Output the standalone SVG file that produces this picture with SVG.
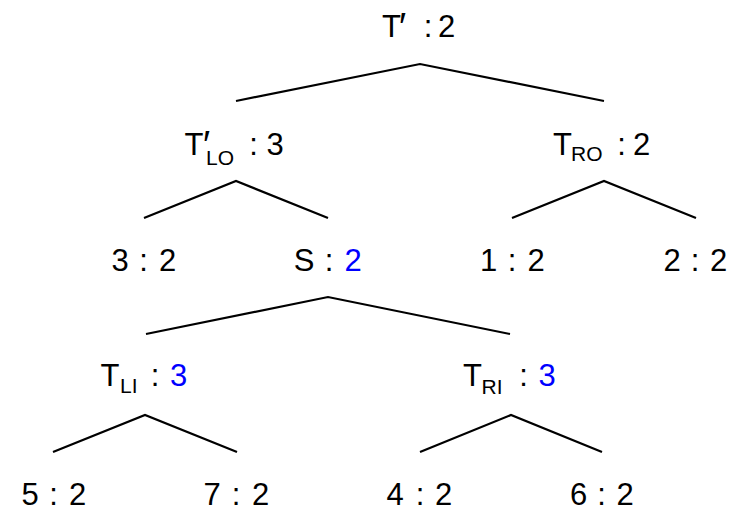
<svg xmlns="http://www.w3.org/2000/svg" width="735" height="510" viewBox="0 0 735 510">
<style>
text{font-family:"Liberation Sans",Arial,sans-serif;font-size:31px;fill:#000;text-anchor:middle}
.sub{font-size:21px;text-anchor:start}
.pr{font-size:38px;text-anchor:start}
.b{fill:#0000ff}
.edge{fill:none;stroke:#000;stroke-width:2.2;stroke-linejoin:miter}
</style>
<rect width="735" height="510" fill="#fff"/>
<g id="connectors">
<polyline class="edge" points="236,101 420,64 604,101"/>
<polyline class="edge" points="144,218 236,181 328,218"/>
<polyline class="edge" points="512,218 604,181 696,218"/>
<polyline class="edge" points="146,334 328,297 510,334"/>
<polyline class="edge" points="53,452 145,415 237,452"/>
<polyline class="edge" points="420,452 511,415 602,452"/>
</g>
<g id="n-root"><text y="37"><tspan x="391.5">T</tspan><tspan class="pr" x="399" y="40">′</tspan><tspan x="428" y="37">:</tspan><tspan x="446.5">2</tspan></text></g>
<g id="n-tlo"><text y="155"><tspan x="194">T</tspan><tspan class="pr" x="203" y="158">′</tspan><tspan class="sub" x="206" y="165">LO</tspan><tspan x="253.5" y="155">:</tspan><tspan x="275">3</tspan></text></g>
<g id="n-tro"><text y="155"><tspan x="562.5">T</tspan><tspan class="sub" x="571" y="161">RO</tspan><tspan x="621.5" y="155">:</tspan><tspan x="641.5">2</tspan></text></g>
<g id="n-32"><text y="271"><tspan x="120">3</tspan><tspan x="143.5">:</tspan><tspan x="167.5">2</tspan></text></g>
<g id="n-s"><text y="271"><tspan x="304">S</tspan><tspan x="329">:</tspan><tspan class="b" x="353">2</tspan></text></g>
<g id="n-12"><text y="271"><tspan x="488.5">1</tspan><tspan x="512">:</tspan><tspan x="536">2</tspan></text></g>
<g id="n-22"><text y="271"><tspan x="672">2</tspan><tspan x="695">:</tspan><tspan x="718.5">2</tspan></text></g>
<g id="n-tli"><text y="386"><tspan x="110">T</tspan><tspan class="sub" x="120" y="393">LI</tspan><tspan x="155" y="386">:</tspan><tspan class="b" x="178.5">3</tspan></text></g>
<g id="n-tri"><text y="386"><tspan x="472.5">T</tspan><tspan class="sub" x="481.5" y="394">RI</tspan><tspan x="523.5" y="386">:</tspan><tspan class="b" x="547">3</tspan></text></g>
<g id="n-52"><text y="505"><tspan x="30">5</tspan><tspan x="53.5">:</tspan><tspan x="77.5">2</tspan></text></g>
<g id="n-72"><text y="505"><tspan x="212">7</tspan><tspan x="236">:</tspan><tspan x="260.5">2</tspan></text></g>
<g id="n-42"><text y="505"><tspan x="395">4</tspan><tspan x="420">:</tspan><tspan x="443.5">2</tspan></text></g>
<g id="n-62"><text y="505"><tspan x="578.5">6</tspan><tspan x="601.5">:</tspan><tspan x="625">2</tspan></text></g>
</svg>
